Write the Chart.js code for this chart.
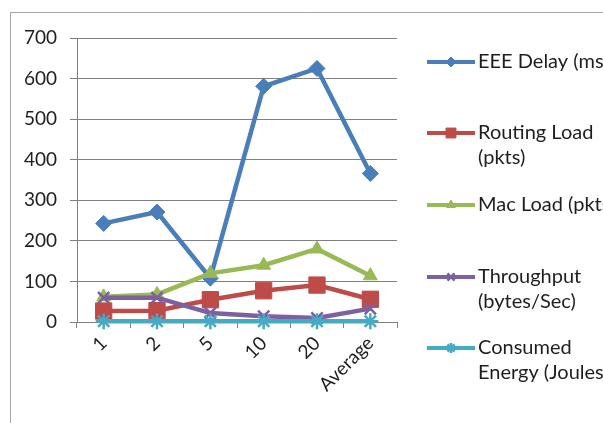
<!DOCTYPE html>
<html>
<head>
<meta charset="utf-8">
<script src="https://cdn.jsdelivr.net/npm/chart.js@4/dist/chart.umd.min.js"></script>
<style>
  html, body { margin: 0; padding: 0; background: #fff; }
  #wrap { width: 603px; height: 423px; position: relative; }
</style>
</head>
<body>
<div id="wrap"><canvas id="c" width="603" height="423"></canvas></div>
<script>
// Scenario categories (x axis)
const categories = ['1', '2', '5', '10', '20', 'Average'];

// Series values
const eeeDelay       = [243, 271, 108, 581, 625, 366];
const routingLoad    = [27, 28, 55, 77, 91, 56];
const macLoad        = [62, 68, 120, 140, 180, 114];
const throughput     = [60, 60, 22, 14, 10, 33];
const consumedEnergy = [2, 2, 2, 2, 2, 2];

// Legend labels, one entry per line of text
const seriesLabels = [
  ['EEE Delay (ms)'],
  ['Routing Load', '(pkts)'],
  ['Mac Load (pkts)'],
  ['Throughput', '(bytes/Sec)'],
  ['Consumed', 'Energy (Joules)']
];

// Y axis tick values
const yTicks = [0, 100, 200, 300, 400, 500, 600, 700];

const FONT = 'Lato, Calibri, Carlito, sans-serif';
const TEXT = '#1e1e1e';
const GRID = '#808080';

const styles = [
  { color: '#4A7EBB', point: 'rectRot', radius: 8 },
  { color: '#BE4B48', point: 'rect', radius: 11.5 },
  { color: '#98B954', point: 'triangle', radius: 8 },
  { color: '#7D60A0', point: 'crossRot', radius: 8 },
  { color: '#46AAC5', point: 'star', radius: 8 }
];

const seriesData = [eeeDelay, routingLoad, macLoad, throughput, consumedEnergy];

const datasets = seriesData.map((d, i) => ({
  label: seriesLabels[i].join(' '),
  data: d,
  borderColor: styles[i].color,
  backgroundColor: styles[i].color,
  borderWidth: 4.5,
  pointStyle: styles[i].point,
  pointRadius: styles[i].radius,
  pointHoverRadius: styles[i].radius,
  pointBorderWidth: (styles[i].point === 'crossRot' || styles[i].point === 'star') ? 2.5 : 1,
  pointBorderColor: styles[i].color,
  pointBackgroundColor: styles[i].color,
  tension: 0,
  fill: false,
  clip: false,
  order: seriesData.length - i
}));

// Outer frame of the chart object (top and left edges)
const framePlugin = {
  id: 'frame',
  beforeDraw(chart) {
    const ctx = chart.ctx;
    ctx.save();
    ctx.fillStyle = '#fff';
    ctx.fillRect(0, 0, chart.width, chart.height);
    ctx.strokeStyle = '#a6a6a6';
    ctx.lineWidth = 1;
    ctx.beginPath();
    ctx.moveTo(10.5, chart.height);
    ctx.lineTo(10.5, 12.5);
    ctx.lineTo(chart.width, 12.5);
    ctx.stroke();
    ctx.restore();
  }
};

// Legend on the right, with wrapped labels
const legendPlugin = {
  id: 'sideLegend',
  afterDraw(chart) {
    const ctx = chart.ctx;
    const x0 = 427, x1 = 475, textX = 478;
    const rowY = [62, 133, 205, 277, 348];
    const lineH = 25;
    ctx.save();
    chart.data.datasets.forEach((ds, i) => {
      const y = rowY[i];
      ctx.strokeStyle = ds.borderColor;
      ctx.lineWidth = 4;
      ctx.beginPath();
      ctx.moveTo(x0, y);
      ctx.lineTo(x1, y);
      ctx.stroke();
      ctx.fillStyle = ds.borderColor;
      ctx.strokeStyle = ds.borderColor;
      ctx.lineWidth = ds.pointBorderWidth;
      Chart.helpers.drawPoint(ctx, {
        pointStyle: ds.pointStyle,
        radius: ds.pointStyle === 'rect' ? 7 : 5,
        rotation: 0,
        borderWidth: ds.pointBorderWidth
      }, (x0 + x1) / 2, y);
      ctx.fillStyle = TEXT;
      ctx.font = '20px ' + FONT;
      ctx.textAlign = 'left';
      ctx.textBaseline = 'middle';
      seriesLabels[i].forEach((line, k) => {
        ctx.fillText(line, textX, y + k * lineH);
      });
    });
    ctx.restore();
  }
};

new Chart(document.getElementById('c'), {
  type: 'line',
  data: { labels: categories, datasets },
  options: {
    responsive: false,
    animation: false,
    devicePixelRatio: 1,
    layout: { padding: { left: 10, top: 38, right: 206, bottom: 0 } },
    plugins: {
      legend: { display: false },
      tooltip: { enabled: false }
    },
    scales: {
      x: {
        offset: true,
        grid: {
          display: true,
          drawOnChartArea: false,
          drawTicks: true,
          tickLength: 6,
          color: GRID,
          offset: true
        },
        border: { display: true, color: GRID, width: 1 },
        ticks: {
          color: TEXT,
          font: { family: FONT, size: 19 },
          minRotation: 45,
          maxRotation: 45,
          padding: 4
        },
        afterFit(scale) { scale.height = 101; }
      },
      y: {
        min: 0,
        max: 700,
        afterBuildTicks(scale) { scale.ticks = yTicks.map(v => ({ value: v })); },
        grid: {
          color: GRID,
          lineWidth: 1,
          drawTicks: true,
          tickLength: 7
        },
        border: { display: true, color: GRID, width: 1 },
        ticks: {
          color: TEXT,
          font: { family: FONT, size: 19 },
          padding: 13
        },
        afterFit(scale) { scale.width = 67; }
      }
    }
  },
  plugins: [framePlugin, legendPlugin]
});
</script>
</body>
</html>
